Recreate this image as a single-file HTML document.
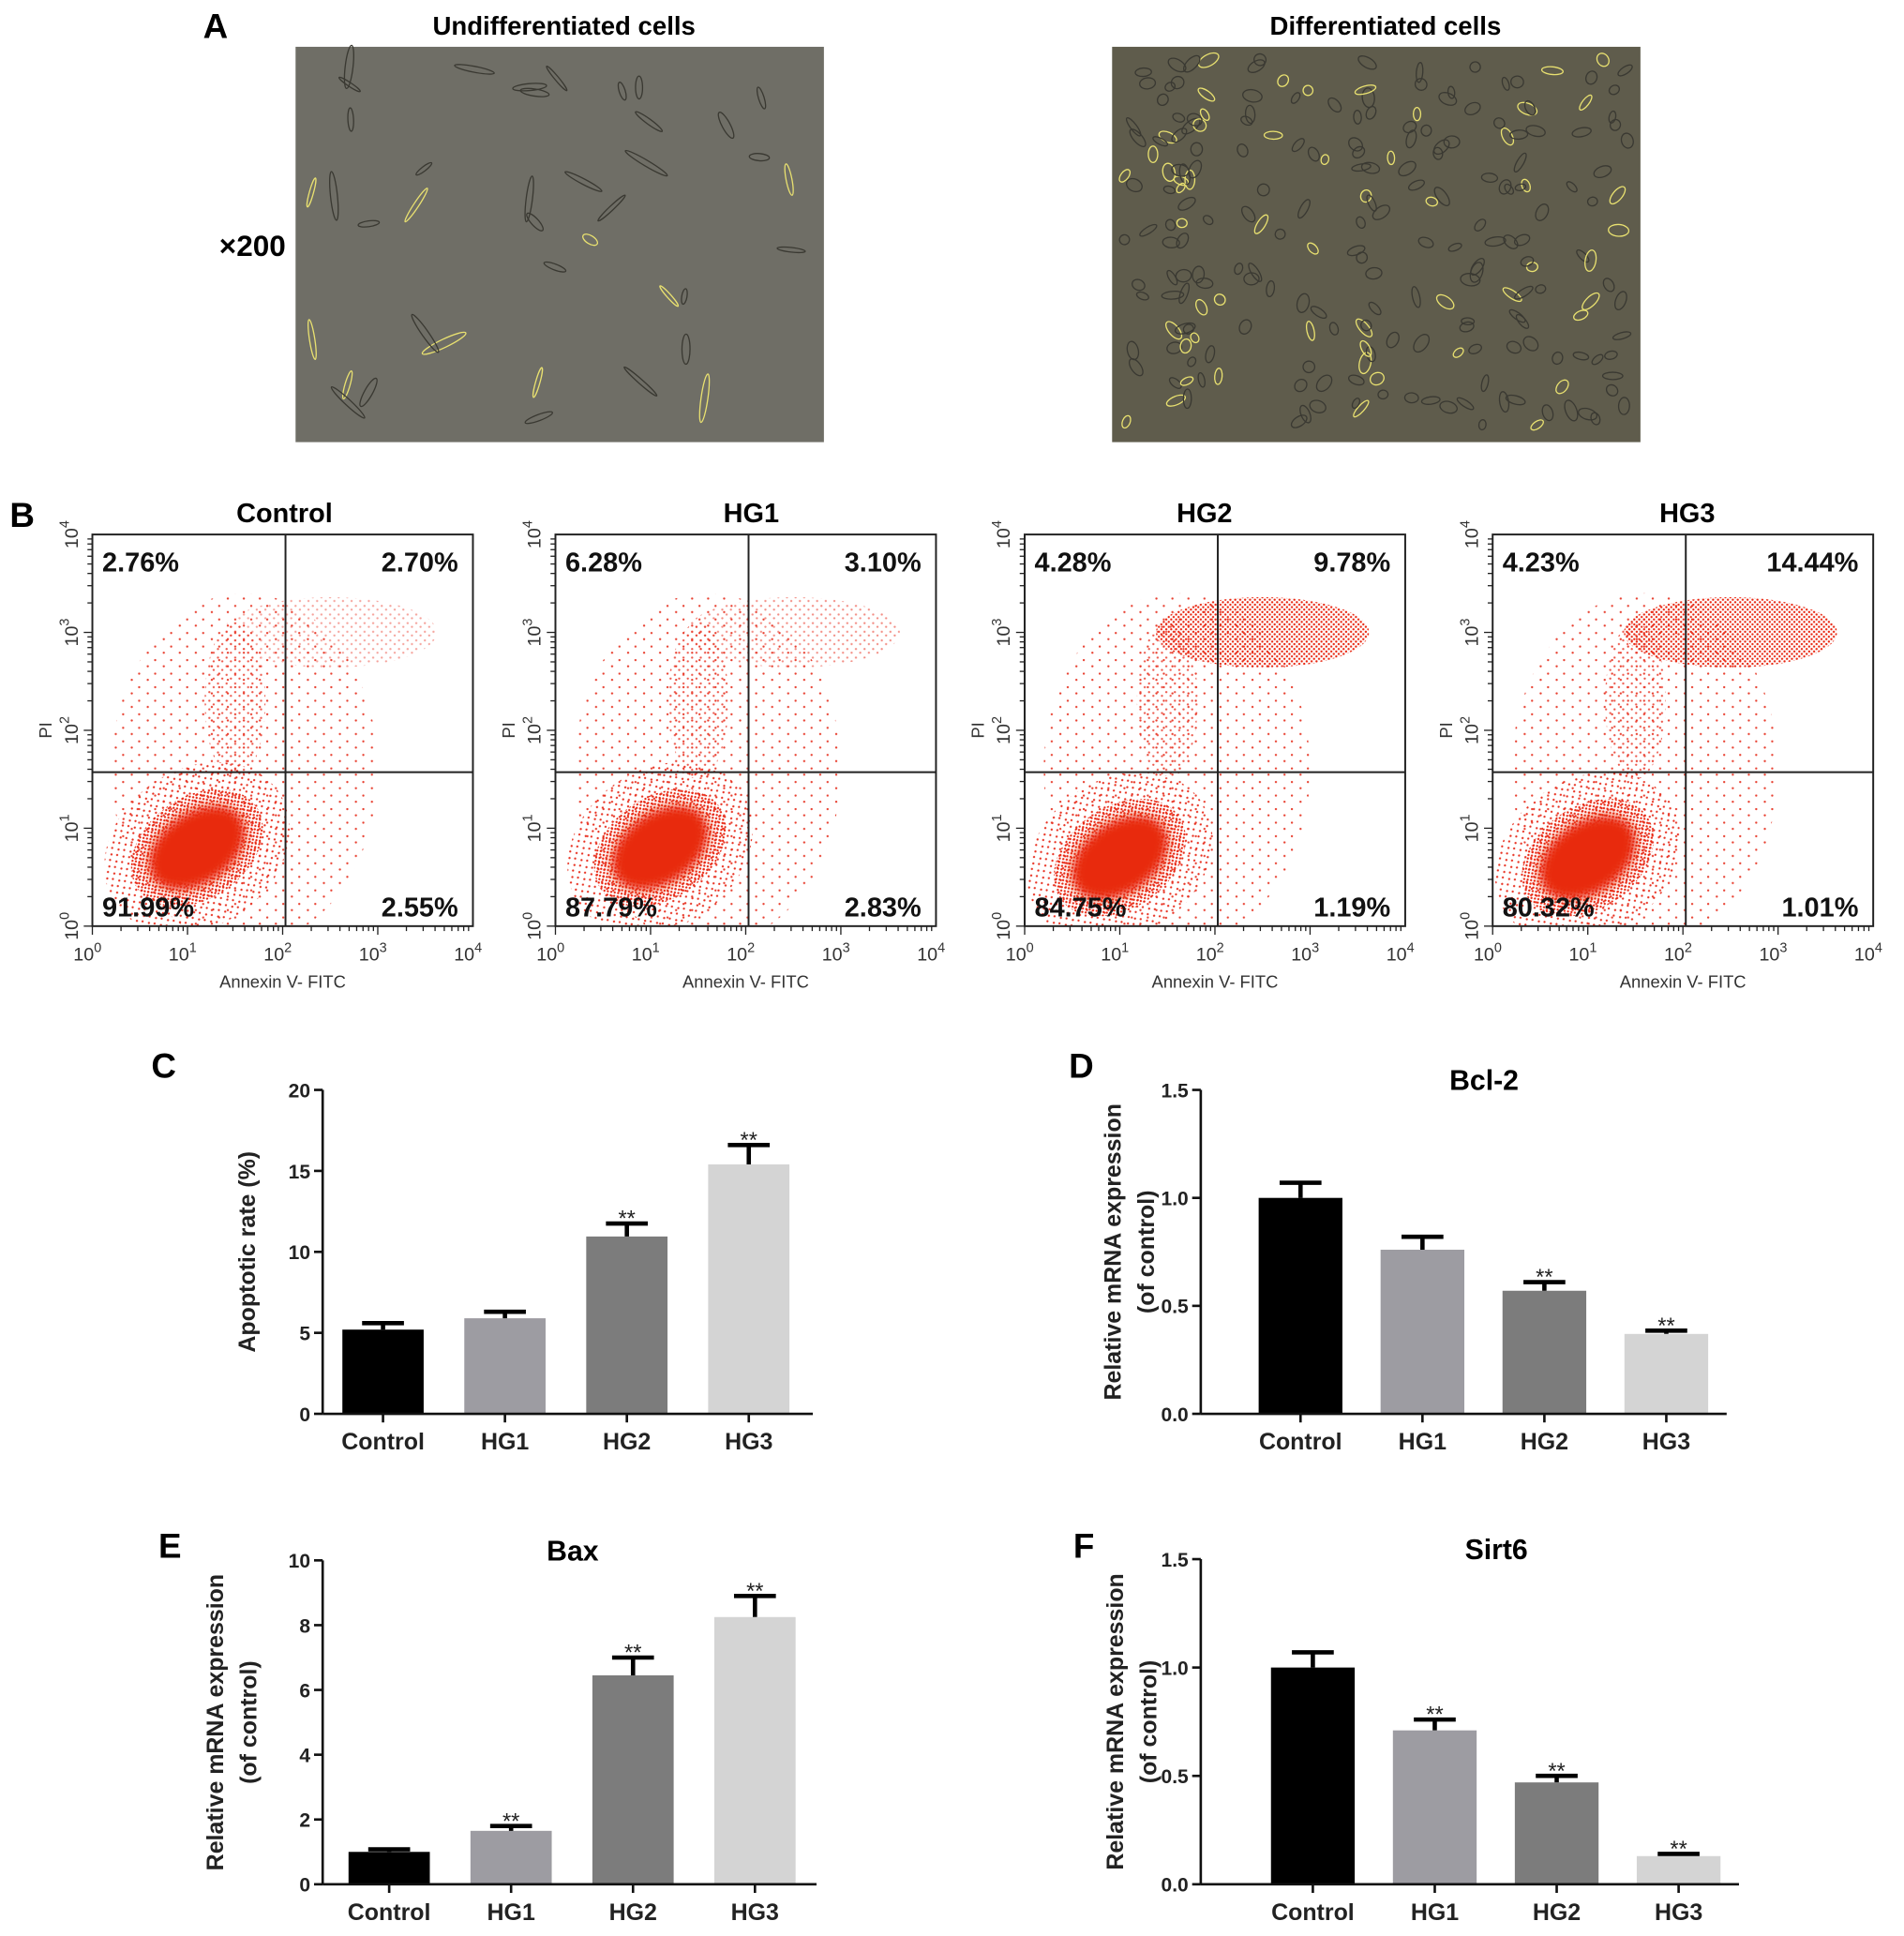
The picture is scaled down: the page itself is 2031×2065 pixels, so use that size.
<!DOCTYPE html>
<html><head><meta charset="utf-8">
<style>
html,body{margin:0;padding:0;background:#fff;}
svg{display:block;font-family:"Liberation Sans",Arial,sans-serif;}
</style></head>
<body>
<svg id="fig" width="2031" height="2065" viewBox="0 0 1546 1572" preserveAspectRatio="none" xmlns="http://www.w3.org/2000/svg">
<defs>
  <pattern id="dotsDense" width="4" height="4" patternUnits="userSpaceOnUse"><circle cx="1" cy="1" r="0.9" fill="#e8250f"/><circle cx="3" cy="3" r="0.9" fill="#e8250f"/></pattern>
  <pattern id="dotsMid" width="7" height="7" patternUnits="userSpaceOnUse"><circle cx="2" cy="2" r="0.9" fill="#e83020"/><circle cx="5.5" cy="5" r="0.9" fill="#e83020"/></pattern>
  <pattern id="dotsSparse" width="13" height="11" patternUnits="userSpaceOnUse"><circle cx="3" cy="2" r="0.9" fill="#e84030"/><circle cx="9" cy="8" r="0.9" fill="#e84030"/></pattern>
  <filter id="blur3"><feGaussianBlur stdDeviation="4"/></filter>
</defs>
<g id="panelA">
  <text x="175" y="31" font-size="28" font-weight="bold" text-anchor="middle">A</text>
  <text x="458" y="28" font-size="21" font-weight="bold" text-anchor="middle">Undifferentiated  cells</text>
  <text x="1125" y="28" font-size="21" font-weight="bold" text-anchor="middle">Differentiated cells</text>
  <text x="205" y="208" font-size="24" font-weight="bold" text-anchor="middle">×200</text>
  <rect x="240" y="38" width="429" height="321" fill="#6f6e66"/>
  <rect x="903" y="38" width="429" height="321" fill="#5f5c4c"/>
  <g id="cellsA"></g>
</g>
<g id="panelB">
  <text x="18" y="428" font-size="28" font-weight="bold" text-anchor="middle">B</text>
</g>
<g id="panelBars"></g>
</svg>
<script>
(function(){
  var g=document.getElementById('cellsA');
  var s=7;function r(){s=(s*9301+49297)%233280;return s/233280;}
  function cells(x0,n,elong){
    for(var i=0;i<n;i++){
      var cx=x0+10+r()*409, cy=48+r()*301, a=r()*180;
      var e=document.createElementNS('http://www.w3.org/2000/svg','ellipse');
      e.setAttribute('cx',cx);e.setAttribute('cy',cy);
      e.setAttribute('rx',elong?6+r()*14:4+r()*5);e.setAttribute('ry',elong?1.5+r()*2:2.5+r()*2.5);
      e.setAttribute('transform','rotate('+a+' '+cx+' '+cy+')');
      e.setAttribute('fill','none');e.setAttribute('stroke',r()>0.75?'#e8e070':'#3a3932');e.setAttribute('stroke-width','1');
      
      
      g.appendChild(e);
    }
  }
  cells(240,40,true);cells(903,230,false);
})();

var flowGroups=['Control','HG1','HG2','HG3'];
var flowUL=['2.76%','6.28%','4.28%','4.23%'];
var flowUR=['2.70%','3.10%','9.78%','14.44%'];
var flowLL=['91.99%','87.79%','84.75%','80.32%'];
var flowLR=['2.55%','2.83%','1.19%','1.01%'];
var clusterX=[1.1,1.1,1.0,1.0];
var clusterY=[0.8,0.8,0.7,0.7];
var upperDensity=[0.25,0.35,0.8,0.95];
var decadeTicks=['0','1','2','3','4'];
(function(){
  var NS='http://www.w3.org/2000/svg';
  var g=document.getElementById('panelB');
  var lefts=[75,451,832,1212], W=309, top=434, H=318, titleX=[231,610,978,1370];
  function el(t,a,p){var e=document.createElementNS(NS,t);for(var k in a)e.setAttribute(k,a[k]);(p||g).appendChild(e);return e;}
  flowGroups.forEach(function(name,i){
    var L=lefts[i];
    var sx=function(v){return L+v/4*W;}, sy=function(v){return top+H-v/4*H;};
    var pg=el('g',{});
    
    
    var t=el('text',{x:titleX[i],y:top-10,'font-size':22,'font-weight':'bold','text-anchor':'middle'},pg);t.textContent=name;
    
    
    var clipId='clip'+i;
    var cp=el('clipPath',{id:clipId},pg);el('rect',{x:L,y:top,width:W,height:H},cp);
    var dots=el('g',{'clip-path':'url(#'+clipId+')'},pg);
    var cx=sx(clusterX[i]), cy=sy(clusterY[i]);
    el('ellipse',{cx:sx(1.6),cy:sy(1.6),rx:W*0.35,ry:H*0.45,fill:'url(#dotsSparse)'},dots);
    var ud=upperDensity[i];
    el('ellipse',{cx:sx(2.5),cy:sy(3.0),rx:W*0.28,ry:H*0.09,fill:ud>0.6?'url(#dotsDense)':'url(#dotsMid)',opacity:Math.min(1,ud+0.2)},dots);
    el('ellipse',{cx:sx(1.5),cy:sy(2.3),rx:W*0.08,ry:H*0.2,fill:'url(#dotsMid)',opacity:0.8},dots);
    el('ellipse',{cx:cx,cy:cy,rx:W*0.26,ry:H*0.2,fill:'url(#dotsMid)',transform:'rotate(-35 '+cx+' '+cy+')'},dots);
    el('ellipse',{cx:cx,cy:cy,rx:W*0.19,ry:H*0.13,fill:'url(#dotsDense)',transform:'rotate(-35 '+cx+' '+cy+')'},dots);
    el('ellipse',{cx:cx,cy:cy,rx:W*0.14,ry:H*0.09,fill:'#e82a0c',filter:'url(#blur3)',transform:'rotate(-35 '+cx+' '+cy+')'},dots);
    el('rect',{x:L,y:top,width:W,height:H,fill:'none',stroke:'#222','stroke-width':1.5},pg);
    el('line',{x1:sx(2.03),x2:sx(2.03),y1:top,y2:top+H,stroke:'#222','stroke-width':1.5},pg);
    el('line',{x1:L,x2:L+W,y1:top+193,y2:top+193,stroke:'#222','stroke-width':1.5},pg);
    for(var d=0;d<4;d++)for(var m=1;m<10;m++){
      var v=d+Math.log10(m), len=m==1?7:4;
      el('line',{x1:sx(v),x2:sx(v),y1:top+H,y2:top+H+len,stroke:'#222','stroke-width':1},pg);
      el('line',{x1:L,x2:L-len,y1:sy(v),y2:sy(v),stroke:'#222','stroke-width':1},pg);
    }
    decadeTicks.forEach(function(k,j){
      var tx=el('text',{x:sx(j)-4,y:top+H+28,'font-size':15,'text-anchor':'middle',fill:'#333'},pg);
      tx.textContent='10';
      var sp=el('tspan',{dy:-7,'font-size':11},tx);sp.textContent=k;
      
      
      var ty=el('text',{x:0,y:0,'font-size':15,'text-anchor':'middle',fill:'#333',transform:'translate('+(L-12)+','+sy(j)+') rotate(-90)'},pg);
      ty.textContent='10';
      var sp2=el('tspan',{dy:-7,'font-size':11},ty);sp2.textContent=k;
      
      
    });
    var xl=el('text',{x:L+W/2,y:top+H+50,'font-size':14,'text-anchor':'middle',fill:'#333'},pg);xl.textContent='Annexin V- FITC';
    
    
    var yl=el('text',{x:0,y:0,'font-size':14,'text-anchor':'middle',fill:'#333',transform:'translate('+(L-33)+','+(top+H*0.5)+') rotate(-90)'},pg);yl.textContent='PI';
    
    
    var q=[[flowUL[i],L+8,top+30,'start'],[flowUR[i],L+W-12,top+30,'end'],[flowLL[i],L+8,top+H-8,'start'],[flowLR[i],L+W-12,top+H-8,'end']];
    q.forEach(function(a){var qt=el('text',{x:a[1],y:a[2],'font-size':22,'font-weight':'bold','text-anchor':a[3],fill:'#111'},pg);qt.textContent=a[0];
      
      });
  });
})();

var barCategories=['Control','HG1','HG2','HG3'];
var apoptosisValues=[5.2,5.9,10.95,15.4];
var apoptosisErrors=[0.4,0.4,0.8,1.2];
var apoptosisStars=['','','**','**'];
var bcl2Values=[1.0,0.76,0.57,0.37];
var bcl2Errors=[0.07,0.06,0.04,0.015];
var bcl2Stars=['','','**','**'];
var baxValues=[1.0,1.65,6.45,8.25];
var baxErrors=[0.08,0.15,0.55,0.65];
var baxStars=['','**','**','**'];
var sirt6Values=[1.0,0.71,0.47,0.13];
var sirt6Errors=[0.07,0.05,0.03,0.01];
var sirt6Stars=['','**','**','**'];
var ticks20=['0','5','10','15','20'];
var ticks15=['0.0','0.5','1.0','1.5'];
var ticks10=['0','2','4','6','8','10'];
(function(){
  var NS='http://www.w3.org/2000/svg';
  var root=document.getElementById('panelBars');
  var colors=['#000000','#9d9ca2','#7c7c7c','#d4d4d4'];
  function el(t,a,p){var e=document.createElementNS(NS,t);for(var k in a)e.setAttribute(k,a[k]);p.appendChild(e);return e;}
  function chart(o){
    var g=el('g',{},root);
    
    
    var max=parseFloat(o.ticks[o.ticks.length-1]);
    var y=function(v){return o.bottom-v/max*(o.bottom-o.top);};
    var lab=el('text',{x:o.lx,y:o.ly,'font-size':28,'font-weight':'bold','text-anchor':'middle'},g);lab.textContent=o.letter;
    
    
    if(o.title){var tt=el('text',{x:o.tx,y:o.top+0,'font-size':23,'font-weight':'bold','text-anchor':'middle'},g);tt.textContent=o.title;
      
      }
    o.values.forEach(function(v,i){
      var c=o.x0+i*o.step, hw=o.bw/2;
      var b=el('rect',{x:c-hw,y:y(v),width:o.bw,height:o.bottom-y(v),fill:colors[i]},g);
      
      
      var ye=y(v+o.errors[i]);
      var eb=el('path',{d:'M'+c+' '+y(v)+'V'+ye+'M'+(c-17)+' '+ye+'H'+(c+17),stroke:colors[0],'stroke-width':3.5,fill:'none'},g);
      
      
      if(o.stars[i]){var st=el('text',{x:c,y:ye+2,'font-size':18,'text-anchor':'middle',fill:'#222'},g);st.textContent=o.stars[i];
        
        }
      el('line',{x1:c,x2:c,y1:o.bottom,y2:o.bottom+7,stroke:'#111','stroke-width':2},g);
      var xl=el('text',{x:c,y:o.bottom+29,'font-size':19,'font-weight':'bold','text-anchor':'middle',fill:'#222'},g);xl.textContent=barCategories[i];
      
      
    });
    el('line',{x1:o.ax,x2:o.ax,y1:o.top,y2:o.bottom,stroke:'#111','stroke-width':2},g);
    el('line',{x1:o.ax,x2:o.xend,y1:o.bottom,y2:o.bottom,stroke:'#111','stroke-width':2},g);
    o.ticks.forEach(function(t){
      var v=parseFloat(t);
      el('line',{x1:o.ax-7,x2:o.ax,y1:y(v),y2:y(v),stroke:'#111','stroke-width':2},g);
      var tl=el('text',{x:o.ax-10,y:y(v)+6,'font-size':16,'font-weight':'bold','text-anchor':'end',fill:'#222'},g);tl.textContent=t;
      
      
    });
    o.ylab.forEach(function(s,k){
      var yl=el('text',{x:0,y:0,'font-size':19,'font-weight':'bold','text-anchor':'middle',fill:'#222',transform:'translate('+(o.ylx+k*27)+','+((o.top+o.bottom)/2)+') rotate(-90)'},g);yl.textContent=s;
      
      
    });
  }
  chart({name:'chart-apoptotic-rate',letter:'C',lx:133,ly:875,ax:262,xend:660,top:885,bottom:1148,x0:311,step:99,bw:66,values:apoptosisValues,errors:apoptosisErrors,stars:apoptosisStars,ticks:ticks20,ylab:['Apoptotic  rate (%)'],ylx:207});
  chart({name:'chart-bcl2',letter:'D',lx:878,ly:875,title:'Bcl-2',tx:1205,ax:975,xend:1402,top:885,bottom:1148,x0:1056,step:99,bw:68,values:bcl2Values,errors:bcl2Errors,stars:bcl2Stars,ticks:ticks15,ylab:['Relative mRNA expression','(of control)'],ylx:910});
  chart({name:'chart-bax',letter:'E',lx:138,ly:1265,title:'Bax',tx:465,ax:262,xend:663,top:1267,bottom:1530,x0:316,step:99,bw:66,values:baxValues,errors:baxErrors,stars:baxStars,ticks:ticks10,ylab:['Relative mRNA expression','(of control)'],ylx:181});
  chart({name:'chart-sirt6',letter:'F',lx:880,ly:1265,title:'Sirt6',tx:1215,ax:975,xend:1412,top:1266,bottom:1530,x0:1066,step:99,bw:68,values:sirt6Values,errors:sirt6Errors,stars:sirt6Stars,ticks:ticks15,ylab:['Relative mRNA expression','(of control)'],ylx:912});
})();
</script>
</body></html>
